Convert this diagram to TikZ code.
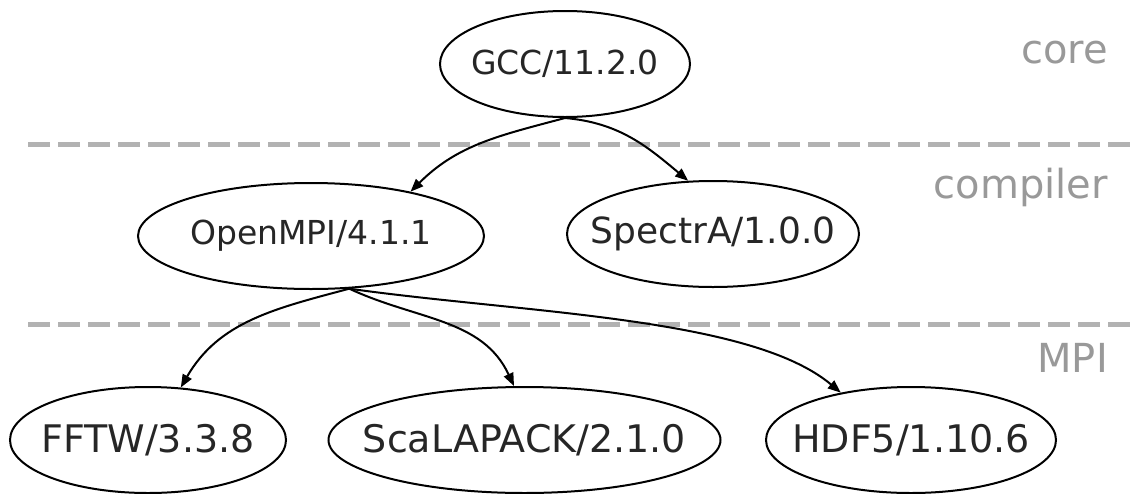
\documentclass[tikz,border=0pt]{standalone}
\usepackage{fontspec}
\setmainfont{DejaVu Sans}
\usetikzlibrary{arrows.meta,shapes.geometric}

\begin{document}
\begin{tikzpicture}[x=1pt,y=1pt,
		pkg/.style={draw,ellipse,line width=2pt,inner xsep=-60pt,inner ysep=0pt,minimum height=106pt,text=black!85,font=\fontsize{#1}{#1}\selectfont},
		dep/.style={line width=2pt,-{Triangle[length=13pt,width=10pt]}},
		layer/.style={black!30,line width=5pt,dash pattern=on 22pt off 8pt},
		tier/.style={anchor=base east,inner sep=0pt,text=black!40,font=\fontsize{40}{48}\selectfont}]
	\useasboundingbox (0,0) rectangle (1130,-493);
	\foreach \y in {-144,-324} \draw[layer] (28,\y) -- (1130,\y);
	\foreach \t/\y in {core/-63,compiler/-198,MPI/-372} \node[tier] (\t) at (1108,\y) {\t};
	\node[pkg=33,minimum width=250pt] (gcc) at (565,-64) {GCC/11.2.0};
	\node[pkg=33,minimum width=346pt] (openmpi) at (311,-236) {OpenMPI/4.1.1};
	\node[pkg=36,minimum width=292pt] (spectra) at (713,-234) {SpectrA/1.0.0};
	\node[pkg=38,minimum width=276pt] (fftw) at (148,-440) {FFTW/3.3.8};
	\node[pkg=38,minimum width=392pt] (scalapack) at (524.5,-440) {ScaLAPACK/2.1.0};
	\node[pkg=38,minimum width=290pt] (hdf5) at (911,-440) {HDF5/1.10.6};
	\draw[dep] (gcc.south) to[out=195,in=45] (openmpi.24);
	\draw[dep] (gcc.south) to[out=-5,in=140] (spectra.115);
	\draw[dep] (openmpi.-54) to[out=195,in=60] (fftw.58);
	\draw[dep] (openmpi.-54) to[out=-25,in=115] (scalapack.101);
	\draw[dep] (openmpi.-54) to[out=-8,in=140,out looseness=.9,in looseness=.6] (hdf5.146);
\end{tikzpicture}
\end{document}
